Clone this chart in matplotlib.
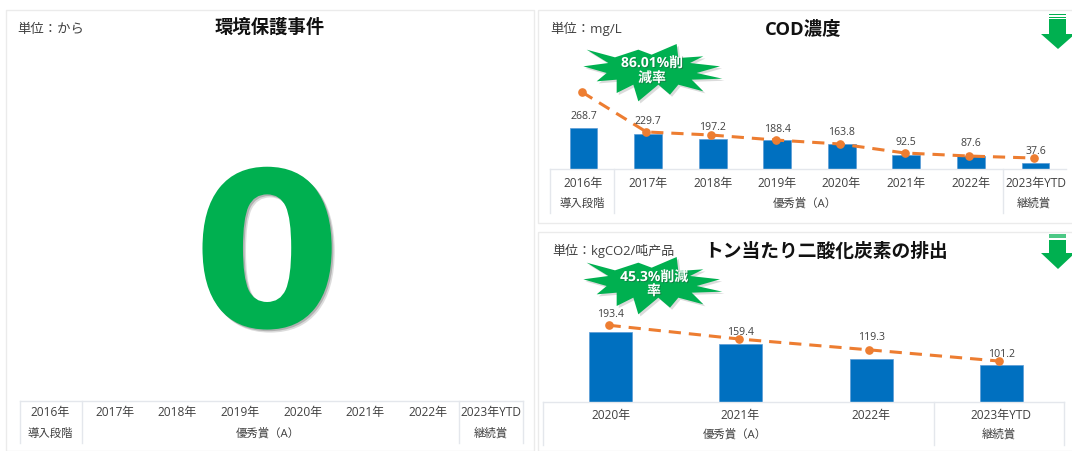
import matplotlib
matplotlib.use("Agg")
import matplotlib.pyplot as plt
import matplotlib.patheffects as pe
from matplotlib.patches import Polygon, Rectangle

plt.rcParams['font.family'] = ['Open Sans', 'Noto Sans CJK JP', 'DejaVu Sans']

W = 1072
H = 451

# values
cod_years = ["2016年", "2017年", "2018年", "2019年", "2020年", "2021年", "2022年", "2023年YTD"]
cod_bars = [268.7, 229.7, 197.2, 188.4, 163.8, 92.5, 87.6, 37.6]
cod_line = [505, 243, 223, 190, 164, 105, 85, 72]
cod_label_gap = [12, 12, 11, 11, 12, 12, 12, 12]

co2_years = ["2020年", "2021年", "2022年", "2023年YTD"]
co2_bars = [193.4, 159.4, 119.3, 101.2]
co2_line = [212, 174, 144, 113]
co2_label_gap = [17, 12, 21, 11]

event_years = cod_years
event_count = "0"

BLUE = "#0070C0"
ORANGE = "#ED7D31"
GREEN = "#00B050"
BORDER = "#EBEBEB"
GRID = "#E4E7EC"
TEXT = "#404040"

fig = plt.figure(figsize=(W / 100, H / 100), dpi=100, facecolor="white")


def px_axes(x0, y0, x1, y1, zorder=1):
	a = fig.add_axes([x0 / W, 1 - y1 / H, (x1 - x0) / W, (y1 - y0) / H], zorder=zorder)
	a.patch.set_alpha(0)
	a.axis("off")
	return a


def bar_panel(box, ymax, years, bars, line, gaps, line_shift, bar_width):
	a = px_axes(*box)
	x = list(range(len(years)))
	a.bar(x, bars, width=bar_width, color=BLUE, edgecolor="#5B9BD5", linewidth=0.5)
	a.plot([i - line_shift for i in x], line, color=ORANGE, lw=2.2, dashes=(4, 2.6),
		marker="o", ms=5.2, zorder=3)
	for i, v in enumerate(bars):
		a.annotate(str(v), (i, v), xytext=(0, gaps[i] * 0.72), textcoords="offset points",
			ha="center", va="center", fontsize=7.6, color=TEXT, zorder=4)
	a.set_xlim(-0.5, len(years) - 0.5)
	a.set_ylim(0, ymax)
	return a


bar_panel((551.2, 44, 1067.8, 169), 820, cod_years, cod_bars, cod_line, cod_label_gap, 0.025, 0.43)
bar_panel((545.4, 142, 1066.5, 402), 718, co2_years, co2_bars, co2_line, co2_label_gap, 0.015, 0.33)

# overlay in pixel coordinates for frames, table rows and callouts
ov = px_axes(0, 0, W, H, zorder=5)
ov.set_xlim(0, W)
ov.set_ylim(H, 0)

for x0, y0, x1, y1 in [(5.5, 10, 534, 451), (537.5, 10, 1075, 223), (537.5, 232, 1075, 451)]:
	ov.add_patch(Rectangle((x0, y0), x1 - x0, y1 - y0, fill=False, ec=BORDER, lw=1))


def table(left, top, bottom, right, cuts, labels, centers, row1, row2, groups):
	ov.plot([left, right], [top, top], color=GRID, lw=1)
	for x in [left] + cuts:
		ov.plot([x, x], [top, bottom], color=GRID, lw=1)
	for lab, c in zip(labels, centers):
		ov.text(c, row1, lab, ha="center", va="center", fontsize=8.6, color=TEXT)
	for lab, c in groups:
		ov.text(c, row2, lab, ha="center", va="center", fontsize=8.2, color=TEXT)


table(19.8, 400.7, 443, 523, [82.4, 458.8, 523], event_years,
	[49.6, 114.5, 177, 240, 302.6, 365, 428, 490.6], 412.7, 434,
	[("導入段階", 50), ("優秀賞（A）", 268), ("継続賞", 490.6)])
table(549.7, 169, 213, 1066, [614.3, 1002.7], cod_years,
	[583.5, 648, 712.8, 777, 841.3, 906, 970.5, 1035.5], 183, 204,
	[("導入段階", 582.5), ("優秀賞（A）", 805), ("継続賞", 1034)])
table(542.8, 402, 445, 1064.2, [934.3, 1064.2], co2_years,
	[610.5, 740.4, 871.4, 1001.3], 415, 435,
	[("優秀賞（A）", 735), ("継続賞", 999)])

# titles and units
ov.text(270, 28, "環境保護事件", ha="center", va="center", fontsize=13.2, fontweight="bold", color="#111111")
ov.text(802.7, 29, "COD濃度", ha="center", va="center", fontsize=13.2, fontweight="bold", color="#111111")
ov.text(826, 252, "トン当たり二酸化炭素の排出", ha="center", va="center", fontsize=13.5, fontweight="bold", color="#111111")
ov.text(17, 29, "単位：から", ha="left", va="center", fontsize=9.6, color=TEXT)
ov.text(550.4, 29, "単位：mg/L", ha="left", va="center", fontsize=9.6, color=TEXT)
ov.text(552.4, 251, "単位：kgCO2/吨产品", ha="left", va="center", fontsize=9.4, color=TEXT)

# big zero
ov.text(267, 267, event_count, ha="center", va="center", fontsize=155, fontweight="bold", color=GREEN,
	family="DejaVu Sans",
	path_effects=[pe.SimplePatchShadow(offset=(2.2, -2.2), shadow_rgbFace="#BBBBBB", alpha=0.5),
		pe.SimplePatchShadow(offset=(1.2, -1.2), shadow_rgbFace="#888888", alpha=0.5), pe.Normal()])

# starburst outline, traced once and reused for both callouts
star_x = [35, 120, 190, 230, 305, 310, 385, 345, 435, 365, 442, 350, 385, 310, 285, 250, 190, 175, 125, 125, 65, 95, 25, 100]
star_y = [35, 58, 35, 50, 18, 60, 55, 75, 85, 105, 122, 125, 160, 140, 170, 140, 190, 140, 165, 125, 130, 105, 85, 75]


def star(dy, line1, line2, cx, y1, y2):
	pts = [(575 + sx / 3, 38 + dy + sy / 3) for sx, sy in zip(star_x, star_y)]
	ov.add_patch(Polygon(pts, closed=True, fc=GREEN, ec="none", zorder=6,
		path_effects=[pe.SimplePatchShadow(offset=(1.5, -1.5), shadow_rgbFace="#999999", alpha=0.35), pe.Normal()]))
	for s, y in [(line1, y1), (line2, y2)]:
		ov.text(cx, y, s, ha="center", va="center", fontsize=10, fontweight="bold", color="white", zorder=7,
			path_effects=[pe.withSimplePatchShadow(offset=(0.7, -0.7), shadow_rgbFace="#333333", alpha=0.35)])


star(0, "86.01%削", "減率", 652, 63, 78)
star(213, "45.3%削減", "率", 654, 277, 291)


def down_arrow(shaft_top, head_y, tip_y, stripes):
	pts = [(1049, shaft_top), (1066, shaft_top), (1066, head_y), (1075, head_y), (1058, tip_y), (1041, head_y), (1049, head_y)]
	ov.add_patch(Polygon(pts, closed=True, fc=GREEN, ec="none", zorder=6))
	for y, h, col in stripes:
		ov.add_patch(Rectangle((1049, y), 17, h, fc=col, ec="none", zorder=6))


down_arrow(19, 34, 49, [(14, 1.2, GREEN), (16.6, 1.2, GREEN)])
down_arrow(240, 253, 269, [(234, 4, "#4CC885")])

fig.savefig("out.png", dpi=100)
